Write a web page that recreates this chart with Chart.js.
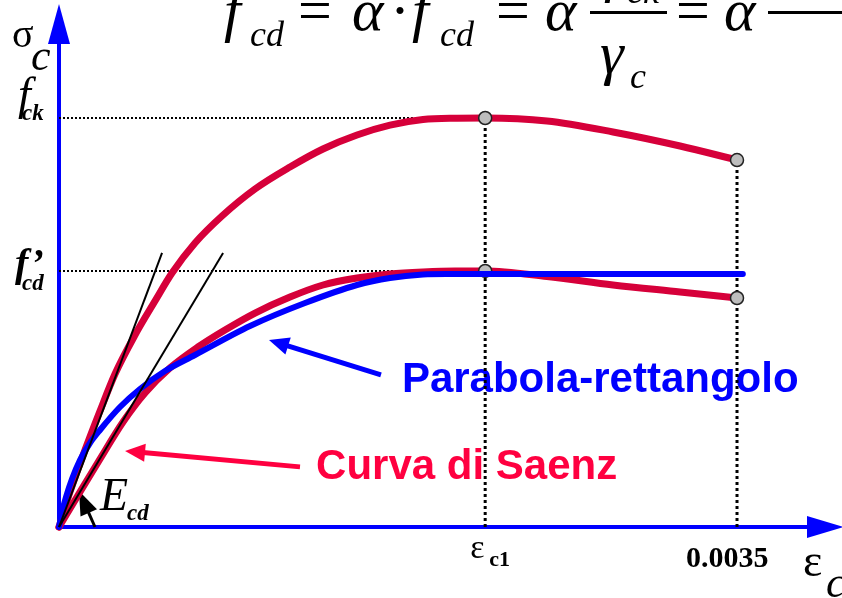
<!DOCTYPE html>
<html>
<head>
<meta charset="utf-8">
<script src="https://cdn.jsdelivr.net/npm/chart.js@4.4.1/dist/chart.umd.min.js"></script>
<style>
  html, body { margin: 0; padding: 0; background: #fff; }
  canvas { display: block; }
</style>
</head>
<body>
<canvas id="chart" width="842" height="598"></canvas>
<script>
// strain eps_c and stress sigma_c / fck
const saenzFckStrain = [0, 0.0000568, 0.0001342, 0.0002117, 0.0002891, 0.0003923, 0.0004956, 0.0005833, 0.0007021, 0.0008414, 0.0010118, 0.0011925, 0.0013628, 0.0015383, 0.0017087, 0.001879, 0.0020546, 0.0022, 0.002519, 0.00286, 0.003206, 0.0035];
const saenzFckStress = [0, 0.0856, 0.1883, 0.2836, 0.3741, 0.4694, 0.5526, 0.621, 0.6944, 0.7604, 0.8264, 0.8802, 0.9242, 0.9584, 0.9825, 0.9962, 0.9995, 1.0, 0.9927, 0.9658, 0.9315, 0.8973];

const saenzFcdStrain = [0, 0.0001084, 0.0002117, 0.0003304, 0.0004439, 0.000573, 0.0007175, 0.0008569, 0.0010118, 0.0011925, 0.0013628, 0.0015383, 0.0017087, 0.001879, 0.0020442, 0.0022, 0.002519, 0.00286, 0.003206, 0.0035];
const saenzFcdStress = [0, 0.0856, 0.1663, 0.2567, 0.3276, 0.3888, 0.4401, 0.4817, 0.5232, 0.5623, 0.5917, 0.6088, 0.6186, 0.6235, 0.6259, 0.626, 0.6125, 0.5917, 0.5746, 0.5599];

const parabolaStrain = [0, 0.0000155, 0.0000361, 0.0000671, 0.0001084, 0.00016, 0.0002117, 0.0003149, 0.0004181, 0.0005472, 0.0007021, 0.000986, 0.0012699, 0.0015383, 0.0017087, 0.001879, 0.002, 0.00353];
const parabolaStress = [0, 0.0367, 0.0733, 0.1174, 0.1638, 0.2054, 0.2372, 0.2934, 0.3374, 0.3814, 0.4205, 0.4914, 0.5477, 0.5917, 0.6088, 0.6174, 0.6186, 0.6186];

const secantStrain = [0, 0.000532];
const secantStress = [0, 0.670];
const tangentStrain = [0, 0.000847];
const tangentStress = [0, 0.670];

const peakStrain = [0.0022, 0.0035, 0.0022, 0.0035];
const peakStress = [1.0, 0.8973, 0.626, 0.5599];

const xTickValues = [0.0022, 0.0035];   // eps_c1, eps_cu
const yTickValues = [1.0, 0.626];       // fck, f'cd

const RED = 'rgb(214,0,58)';
const RED_TEXT = 'rgb(255,0,64)';
const BLUE = '#0000ff';
const SERIF = '"Liberation Serif", "Times New Roman", serif';
const SANS = '"Liberation Sans", Arial, sans-serif';

const pts = (xs, ys) => xs.map((x, i) => ({ x: x, y: ys[i] }));

function drawArrow(ctx, x1, y1, x2, y2, color, lw, headLen, headHalf) {
    const a = Math.atan2(y2 - y1, x2 - x1);
    const bx = x2 - headLen * Math.cos(a);
    const by = y2 - headLen * Math.sin(a);
    ctx.save();
    ctx.strokeStyle = color;
    ctx.fillStyle = color;
    ctx.lineWidth = lw;
    ctx.beginPath();
    ctx.moveTo(x1, y1);
    ctx.lineTo(bx + 2 * Math.cos(a), by + 2 * Math.sin(a));
    ctx.stroke();
    ctx.beginPath();
    ctx.moveTo(x2, y2);
    ctx.lineTo(bx + headHalf * Math.sin(a), by - headHalf * Math.cos(a));
    ctx.lineTo(bx - headHalf * Math.sin(a), by + headHalf * Math.cos(a));
    ctx.closePath();
    ctx.fill();
    ctx.restore();
}

function txt(ctx, s, x, y, font, color) {
    ctx.font = font;
    ctx.fillStyle = color || '#000';
    ctx.fillText(s, x, y);
}

const diagramPlugin = {
    id: 'diagram',
    beforeDatasetsDraw(chart) {
        const ctx = chart.ctx;
        const xs = chart.scales.x, ys = chart.scales.y;
        const X = v => xs.getPixelForValue(v);
        const Y = v => ys.getPixelForValue(v);
        const x0 = X(0), y0 = Y(0);
        ctx.save();
        ctx.textBaseline = 'alphabetic';

        // axes with arrow heads
        ctx.strokeStyle = BLUE;
        ctx.fillStyle = BLUE;
        ctx.lineWidth = 4;
        ctx.beginPath();
        ctx.moveTo(x0 - 2, y0);
        ctx.lineTo(812, y0);
        ctx.moveTo(x0, y0 + 2);
        ctx.lineTo(x0, 40);
        ctx.stroke();
        ctx.beginPath();
        ctx.moveTo(844, y0);
        ctx.lineTo(807, y0 - 11);
        ctx.lineTo(807, y0 + 11);
        ctx.closePath();
        ctx.fill();
        ctx.beginPath();
        ctx.moveTo(x0, 4);
        ctx.lineTo(x0 - 11, 44);
        ctx.lineTo(x0 + 11, 44);
        ctx.closePath();
        ctx.fill();

        // annotation texts and arrows
        txt(ctx, 'Parabola-rettangolo', X(0.00177), Y(0.330), 'bold 42px ' + SANS, BLUE);
        drawArrow(ctx, X(0.001662), Y(0.372), X(0.001084), Y(0.457), BLUE, 5, 20, 9);
        txt(ctx, 'Curva di Saenz', X(0.001327), Y(0.117), 'bold 42px ' + SANS, RED_TEXT);
        drawArrow(ctx, X(0.001244), Y(0.147), X(0.000341), Y(0.186), RED_TEXT, 5, 20, 9);

        // E_cd with its small arrow
        drawArrow(ctx, x0 + 36, y0, x0 + 20, y0 - 36, '#000', 3, 24, 9);
        txt(ctx, 'E', x0 + 41, y0 - 17, 'italic 46px ' + SERIF);
        txt(ctx, 'cd', x0 + 68, y0 - 7, 'bold italic 23px ' + SERIF);

        // axis titles
        txt(ctx, 'σ', 12, 47, '40px ' + SERIF);
        txt(ctx, 'c', 31, 70, 'italic 44px ' + SERIF);
        txt(ctx, 'ε', 803, 576, '46px ' + SERIF);
        txt(ctx, 'c', 826, 597, 'italic 44px ' + SERIF);

        // tick labels
        const yf = Y(yTickValues[0]), yd = Y(yTickValues[1]);
        txt(ctx, 'f', 18, yf - 9, 'italic 46px ' + SERIF);
        txt(ctx, 'ck', 22, yf + 2, 'bold italic 23px ' + SERIF);
        txt(ctx, 'f\u2019', 15, yd + 5, 'bold italic 40px ' + SERIF);
        txt(ctx, 'cd', 22, yd + 19, 'bold italic 23px ' + SERIF);
        const xc1 = X(xTickValues[0]), xcu = X(xTickValues[1]);
        txt(ctx, 'ε', xc1 - 15, y0 + 31, '34px ' + SERIF);
        txt(ctx, 'c1', xc1 + 4, y0 + 39, 'bold 22px ' + SERIF);
        txt(ctx, '0.0035', xcu - 51, y0 + 40, 'bold 30px ' + SERIF);

        // formula at the top (partly cut by the frame)
        const it = 'italic 60px ' + SERIF, rm = '60px ' + SERIF, sub = 'italic 36px ' + SERIF;
        txt(ctx, 'f', 224, 30, it);
        txt(ctx, 'cd', 250, 46, sub);
        txt(ctx, '=', 298, 30, rm);
        txt(ctx, 'α', 352, 30, it);
        txt(ctx, '·', 390, 30, rm);
        txt(ctx, 'f', 412, 30, it);
        txt(ctx, 'cd', 440, 46, sub);
        txt(ctx, '=', 496, 30, rm);
        txt(ctx, 'α', 545, 30, it);
        txt(ctx, 'f', 604, -10, it);
        txt(ctx, 'ck', 627, 3, sub);
        txt(ctx, 'γ', 600, 73, it);
        txt(ctx, 'c', 630, 88, sub);
        txt(ctx, '=', 676, 30, rm);
        txt(ctx, 'α', 724, 30, it);
        ctx.fillStyle = '#000';
        ctx.fillRect(590, 11, 77, 3);
        ctx.fillRect(768, 11, 74, 3);
        ctx.restore();
    }
};

const curve = (label, xs, ys, color, width) => ({
    label: label,
    data: pts(xs, ys),
    showLine: true,
    borderColor: color,
    borderWidth: width,
    pointRadius: 0,
    cubicInterpolationMode: 'monotone',
    borderCapStyle: 'round',
    clip: false
});

const straight = (xs, ys, width) => ({
    data: pts(xs, ys),
    showLine: true,
    borderColor: '#000',
    borderWidth: width,
    pointRadius: 0,
    clip: false
});

const guide = (xs, ys, width, dash) => ({
    ...straight(xs, ys, width),
    borderDash: dash
});

new Chart(document.getElementById('chart'), {
    type: 'scatter',
    data: {
        // first dataset is drawn on top
        datasets: [
            straight(secantStrain, secantStress, 2),
            straight(tangentStrain, tangentStress, 2),
            curve('Parabola-rettangolo', parabolaStrain, parabolaStress, BLUE, 6),
            {
                label: 'peaks',
                data: pts(peakStrain, peakStress),
                showLine: false,
                pointRadius: 6.5,
                pointBackgroundColor: '#bdbdbd',
                pointBorderColor: '#222',
                pointBorderWidth: 1.5,
                clip: false
            },
            curve('Saenz fck', saenzFckStrain, saenzFckStress, RED, 7),
            curve('Saenz fcd', saenzFcdStrain, saenzFcdStress, RED, 7),
            guide([xTickValues[0], xTickValues[0]], [0, peakStress[0]], 3, [3, 3]),
            guide([xTickValues[1], xTickValues[1]], [0, peakStress[1]], 3, [3, 3]),
            guide([0, xTickValues[0]], [yTickValues[0], yTickValues[0]], 2, [2, 2]),
            guide([0, xTickValues[0]], [yTickValues[1], yTickValues[1]], 2, [2, 2])
        ]
    },
    options: {
        responsive: false,
        animation: false,
        devicePixelRatio: 1,
        layout: { padding: { left: 59, right: 27.5, top: 15.75, bottom: 71 } },
        scales: {
            x: { type: 'linear', min: 0, max: 0.0039, display: false },
            y: { type: 'linear', min: 0, max: 1.25, display: false }
        },
        plugins: {
            legend: { display: false },
            tooltip: { enabled: false }
        }
    },
    plugins: [diagramPlugin]
});
</script>
</body>
</html>
